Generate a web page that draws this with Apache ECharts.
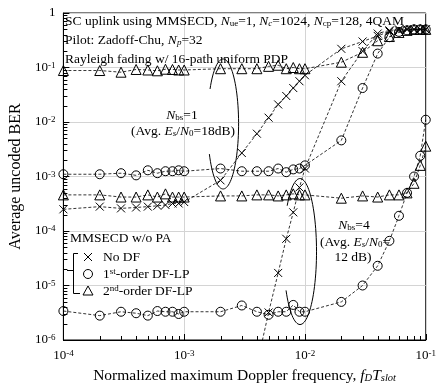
<!DOCTYPE html>
<html>
<head>
<meta charset="utf-8">
<script src="https://cdn.jsdelivr.net/npm/echarts@6/dist/echarts.min.js"></script>
<style>
  html, body { margin: 0; padding: 0; background: #fff; }
  #chart { width: 439px; height: 389px; }
</style>
</head>
<body>
<div id="chart"></div>
<script>
// normalized max Doppler frequency fD*Tslot (x positions)
const fdT = [
  1e-4, 2e-4, 3e-4, 4e-4, 5e-4, 6e-4, 7e-4, 8e-4, 9e-4,
  1e-3, 2e-3, 3e-3, 4e-3, 5e-3, 6e-3, 7e-3, 8e-3, 9e-3,
  1e-2, 2e-2, 3e-2, 4e-2, 5e-2, 6e-2, 7e-2, 8e-2, 9e-2, 1e-1
]

// Nbs=1, avg Es/N0 = 18 dB
const nbs1NoDf = [
  2.5e-4, 2.8e-4, 2.6e-4, 2.7e-4, 2.8e-4, 2.9e-4, 3.0e-4, 3.2e-4, 3.2e-4,
  3.4e-4, 8.5e-4, 2.7e-3, 6.1e-3, 1.2e-2, 2.1e-2, 3.0e-2, 4.2e-2, 5.6e-2,
  7.2e-2, 0.22, 0.30, 0.38, 0.46, 0.48, 0.5, 0.5, 0.5, 0.5
]
const nbs1Lp1 = [
  1.1e-3, 1.1e-3, 1.15e-3, 1.05e-3, 1.3e-3, 1.15e-3, 1.25e-3, 1.25e-3, 1.3e-3,
  1.25e-3, 1.4e-3, 1.25e-3, 1.25e-3, 1.25e-3, 1.4e-3, 1.2e-3, 1.35e-3, 1.4e-3,
  1.6e-3, 4.6e-3, 4.2e-2, 0.18, 0.36, 0.45, 0.48, 0.5, 0.5, 0.5
]
const nbs1Lp2 = [
  0.088, 0.088, 0.082, 0.092, 0.09, 0.087, 0.093, 0.092, 0.09,
  0.09, 0.095, 0.095, 0.095, 0.105, 0.11, 0.095, 0.1, 0.095,
  0.095, 0.125, 0.19, 0.31, 0.37, 0.44, 0.48, 0.5, 0.5, 0.5
]

// Nbs=4, avg Es/N0 = 12 dB
const nbs4NoDf = [
  null, null, null, null, null, null, null, null, null,
  null, null, null, 3.5e-7, 3.2e-6, 1.7e-5, 7.2e-5, 2.2e-4, 6.3e-4,
  1.4e-3, 5.6e-2, 0.2, 0.42, 0.48, 0.5, 0.5, 0.5, 0.5, 0.5
]
const nbs4Lp1 = [
  3.4e-6, 2.8e-6, 3.3e-6, 3.1e-6, 2.8e-6, 3.4e-6, 3.3e-6, 3.3e-6, 3.0e-6,
  3.3e-6, 3.3e-6, 4.3e-6, 3.3e-6, 2.9e-6, 3.3e-6, 3.3e-6, 4.4e-6, 3.3e-6,
  3.3e-6, 5e-6, 1e-5, 2.3e-5, 6.6e-5, 1.9e-4, 5e-4, 1e-3, 2.4e-3, 1.1e-2
]
const nbs4Lp2 = [
  4.6e-4, 4.6e-4, 4.2e-4, 4.2e-4, 4.6e-4, 4.2e-4, 4.8e-4, 4.2e-4, 4.2e-4,
  4.2e-4, 4.4e-4, 4.4e-4, 4.6e-4, 4.6e-4, 4.4e-4, 4.6e-4, 4.8e-4, 4.6e-4,
  4.6e-4, 4.0e-4, 4.4e-4, 4.2e-4, 4.6e-4, 4.6e-4, 5.0e-4, 7.5e-4, 1.6e-3, 3.6e-3
]

const legendNames = ['No DF', '1st-order DF-LP', '2nd-order DF-LP']

const FONT = 'Liberation Serif'
const X_PATH = 'path://M0,0L10,10M0,10L10,0'

const rich = {
  i: { fontStyle: 'italic', fontFamily: FONT, fontSize: 13.5 },
  sub: { fontFamily: FONT, fontSize: 9, lineHeight: 6, verticalAlign: 'bottom' },
  isub: { fontFamily: FONT, fontSize: 9, lineHeight: 6, verticalAlign: 'bottom', fontStyle: 'italic' },
  sup: { fontFamily: FONT, fontSize: 9, lineHeight: 10, verticalAlign: 'top' }
}

const toPairs = (vals) => fdT.map((x, i) => [x, vals[i]]).filter(p => p[1] != null)

const makeSeries = (name, vals, symbol, size) => ({
  name,
  type: 'line',
  data: toPairs(vals),
  symbol,
  symbolSize: size,
  showSymbol: true,
  animation: false,
  lineStyle: { color: '#000', width: 0.8, type: [3, 2] },
  itemStyle: { color: 'rgba(0,0,0,0)', borderColor: '#000', borderWidth: 1 },
  emphasis: { disabled: true },
  z: 3
})

// minor tick positions (2..9 per decade)
const xMinor = []
for (let e = -4; e < -1; e++) for (let m = 2; m <= 9; m++) xMinor.push(m * Math.pow(10, e))
const yMinor = []
for (let e = -6; e < 0; e++) for (let m = 2; m <= 9; m++) yMinor.push(m * Math.pow(10, e))

const tickLabel = (v) => {
  const e = Math.round(Math.log10(v))
  return e === 0 ? '1' : '10{sup|' + e + '}'
}

const chart = echarts.init(document.getElementById('chart'))

chart.setOption({
  animation: false,
  backgroundColor: '#fff',
  textStyle: { fontFamily: FONT },
  grid: {
    left: 58, right: 8, top: 13, bottom: 40,
    show: true, borderColor: '#000', borderWidth: 1, backgroundColor: 'transparent'
  },
  xAxis: {
    type: 'log', logBase: 10, min: 1e-4, max: 1e-1,
    name: 'Normalized maximum Doppler frequency, {i|f}{isub|D}{i|T}{isub|slot}',
    nameLocation: 'middle', nameGap: 28,
    nameTextStyle: { fontFamily: FONT, fontSize: 15.5, color: '#000', rich: {
      i: { fontStyle: 'italic', fontFamily: FONT, fontSize: 15.5 },
      isub: { fontFamily: FONT, fontSize: 10.5, lineHeight: 6, verticalAlign: 'bottom', fontStyle: 'italic' }
    } },
    axisLine: { lineStyle: { color: '#000', width: 1 } },
    axisTick: { inside: true, length: 6, lineStyle: { color: '#000' } },
    minorTick: { show: false },
    splitLine: { show: true, lineStyle: { color: '#d4d4d4', width: 1 } },
    axisLabel: { formatter: tickLabel, color: '#000', fontFamily: FONT, fontSize: 13, margin: 9, rich }
  },
  yAxis: {
    type: 'log', logBase: 10, min: 1e-6, max: 1,
    name: 'Average uncoded BER',
    nameLocation: 'middle', nameGap: 34,
    nameTextStyle: { fontFamily: FONT, fontSize: 16, color: '#000' },
    axisLine: { lineStyle: { color: '#000', width: 1 } },
    axisTick: { inside: true, length: 6, lineStyle: { color: '#000' } },
    minorTick: { show: false },
    splitLine: { show: true, lineStyle: { color: '#d4d4d4', width: 1 } },
    axisLabel: { formatter: tickLabel, color: '#000', fontFamily: FONT, fontSize: 13, margin: 8, rich }
  },
  series: [
    makeSeries('Nbs1 ' + legendNames[0], nbs1NoDf, X_PATH, 8),
    makeSeries('Nbs1 ' + legendNames[1], nbs1Lp1, 'circle', 9),
    makeSeries('Nbs1 ' + legendNames[2], nbs1Lp2, 'triangle', 10),
    makeSeries('Nbs4 ' + legendNames[0], nbs4NoDf, X_PATH, 8),
    makeSeries('Nbs4 ' + legendNames[1], nbs4Lp1, 'circle', 9),
    makeSeries('Nbs4 ' + legendNames[2], nbs4Lp2, 'triangle', 10),
    {
      type: 'custom', silent: true, z: 4,
      data: xMinor.map(v => [v, 1e-6]),
      renderItem: (params, api) => {
        const p = api.coord([api.value(0), api.value(1)])
        const x = Math.round(p[0]) + 0.5
        return { type: 'line', shape: { x1: x, y1: p[1], x2: x, y2: p[1] - 4 }, style: { stroke: '#000', lineWidth: 1 } }
      }
    },
    {
      type: 'custom', silent: true, z: 4,
      data: yMinor.map(v => [1e-4, v]),
      renderItem: (params, api) => {
        const p = api.coord([api.value(0), api.value(1)])
        const y = Math.round(p[1]) + 0.5
        return { type: 'line', shape: { x1: p[0], y1: y, x2: p[0] + 4, y2: y }, style: { stroke: '#000', lineWidth: 1 } }
      }
    }
  ]
})

// annotations: ellipses around curve groups, labels, legend
const arcPoints = (c, rx, ry, t0, t1) => {
  const pts = []
  for (let k = 0; k <= 80; k++) {
    const t = t0 + (t1 - t0) * k / 80
    pts.push([c[0] + rx * Math.cos(t), c[1] + ry * Math.sin(t)])
  }
  return pts
}
const c1 = chart.convertToPixel('grid', [2.1e-3, 9.2e-3])
const c4 = chart.convertToPixel('grid', [9.1e-3, 4.2e-5])

const txt = (x, y, text, align, size) => ({
  type: 'text', x, y, z: 10,
  style: {
    text, fill: '#000', fontFamily: FONT, fontSize: size || 13.5,
    align: align || 'left', verticalAlign: 'middle', rich
  }
})

const stroke = { stroke: '#000', lineWidth: 1, fill: null }

chart.setOption({
  graphic: [
    { type: 'polyline', z: 10, shape: { points: arcPoints(c1, 15.5, 65, 3.71, 2.66 + 2 * Math.PI) }, style: stroke },
    { type: 'polyline', z: 10, shape: { points: arcPoints(c4, 16.5, 73, 3.82, 2.58 + 2 * Math.PI) }, style: stroke },

    txt(65, 21, 'SC uplink using MMSECD, {i|N}{sub|ue}=1, {i|N}{isub|c}=1024, {i|N}{sub|cp}=128, 4QAM'),
    txt(65, 40, 'Pilot: Zadoff-Chu, {i|N}{isub|p}=32'),
    txt(65, 59, 'Rayleigh fading w/ 16-path uniform PDP'),

    txt(182, 115, '{i|N}{sub|bs}=1', 'center'),
    txt(183, 131, '(Avg. {i|E}{isub|s}/{i|N}{sub|0}=18dB)', 'center'),

    txt(354, 225, '{i|N}{sub|bs}=4', 'center'),
    txt(355, 242, '(Avg. {i|E}{isub|s}/{i|N}{sub|0}=', 'center'),
    txt(353, 257, '12 dB)', 'center'),

    // legend
    txt(70, 238, 'MMSECD w/o PA'),
    { type: 'polyline', z: 10, shape: { points: [[78, 253.5], [73.5, 253.5], [73.5, 293.5], [80, 293.5]] }, style: stroke },
    { type: 'line', z: 10, shape: { x1: 67, y1: 270.5, x2: 73.5, y2: 270.5 }, style: stroke },
    { type: 'polyline', z: 10, shape: { points: [[84, 253], [92, 261]] }, style: stroke },
    { type: 'polyline', z: 10, shape: { points: [[84, 261], [92, 253]] }, style: stroke },
    { type: 'circle', z: 10, shape: { cx: 88, cy: 274, r: 4.5 }, style: stroke },
    { type: 'polygon', z: 10, shape: { points: [[88, 286], [83, 295], [93, 295]] }, style: stroke },
    txt(103, 257, legendNames[0]),
    txt(103, 274, '1{sup|st}-order DF-LP'),
    txt(103, 291, '2{sup|nd}-order DF-LP')
  ]
})
</script>
</body>
</html>
